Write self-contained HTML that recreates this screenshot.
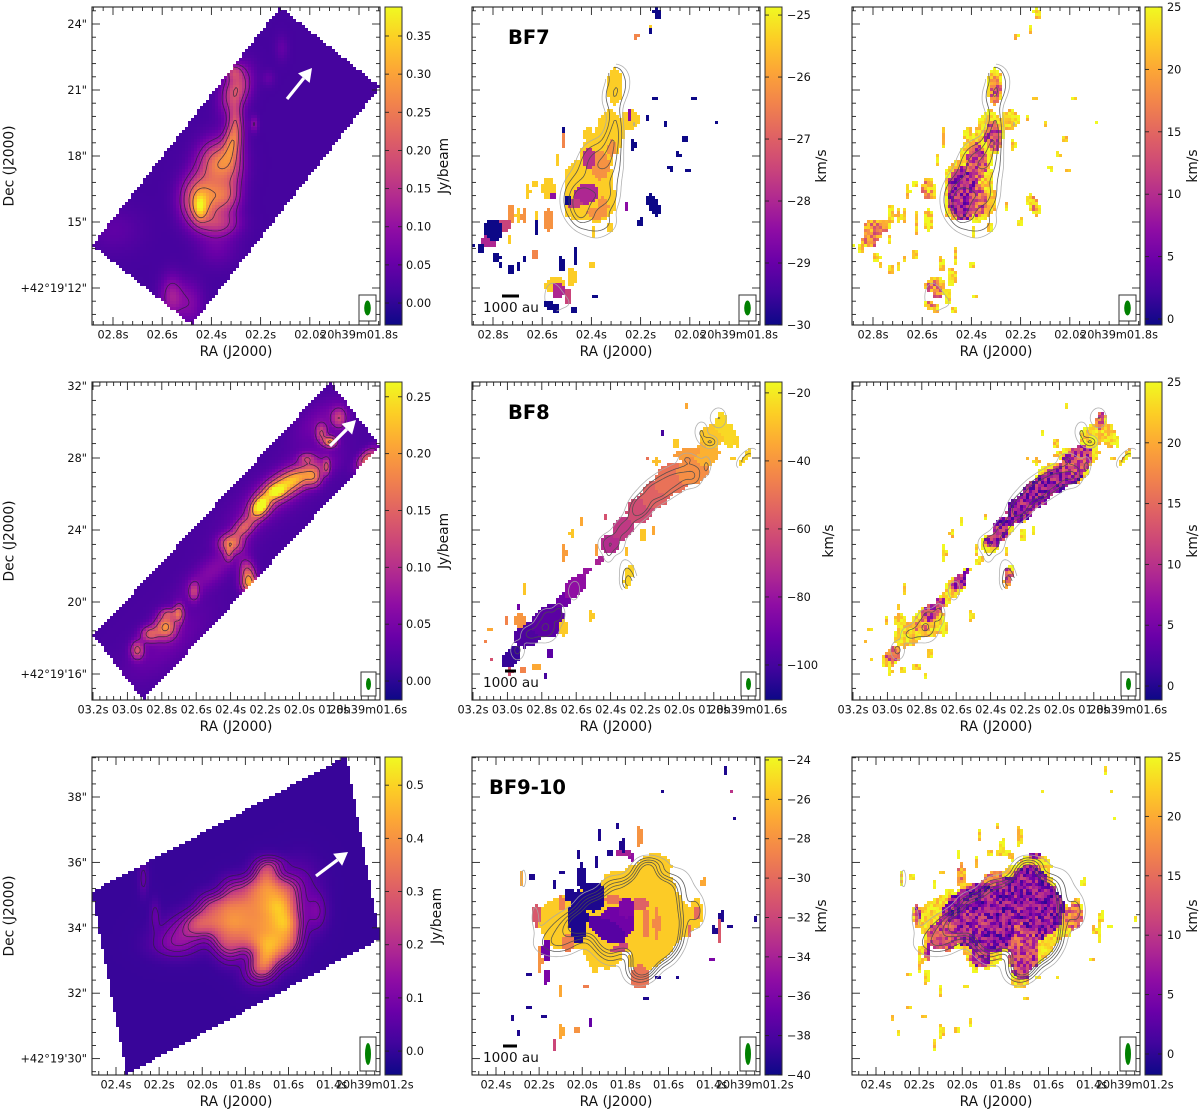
<!DOCTYPE html>
<html lang="en">
<head>
<meta charset="utf-8">
<title>BF7, BF8, BF9-10 moment maps</title>
<style>
html,body{margin:0;padding:0;background:#fff;}
svg{display:block;}
text{font-family:"DejaVu Sans","Liberation Sans",sans-serif;fill:#111;}
</style>
</head>
<body>
<svg id="figure" xmlns="http://www.w3.org/2000/svg" width="1200" height="1111" viewBox="0 0 1200 1111"></svg>
<script>
/* ---------- tick values and labels ---------- */
const row1RaTicks=[2.8,2.6,2.4,2.2,2.0,1.8];
const row1RaLabels=["02.8s","02.6s","02.4s","02.2s","02.0s","20h39m01.8s"];
const row2RaTicks=[3.2,3.0,2.8,2.6,2.4,2.2,2.0,1.8,1.6];
const row2RaLabels=["03.2s","03.0s","02.8s","02.6s","02.4s","02.2s","02.0s","01.8s","20h39m01.6s"];
const row3RaTicks=[2.4,2.2,2.0,1.8,1.6,1.4,1.2];
const row3RaLabels=["02.4s","02.2s","02.0s","01.8s","01.6s","01.4s","20h39m01.2s"];
const row1DecTicks=[24,21,18,15,12];
const row1DecLabels=['24"','21"','18"','15"','+42°19\'12"'];
const row2DecTicks=[32,28,24,20,16];
const row2DecLabels=['32"','28"','24"','20"','+42°19\'16"'];
const row3DecTicks=[38,36,34,32,30];
const row3DecLabels=['38"','36"','34"','32"','+42°19\'30"'];

const row1IntensityRange=[-0.0288,0.388];
const row1IntensityTicks=[0,0.05,0.1,0.15,0.2,0.25,0.3,0.35];
const row1IntensityLabels=["0.00","0.05","0.10","0.15","0.20","0.25","0.30","0.35"];
const row2IntensityRange=[-0.0167,0.263];
const row2IntensityTicks=[0,0.05,0.1,0.15,0.2,0.25];
const row2IntensityLabels=["0.00","0.05","0.10","0.15","0.20","0.25"];
const row3IntensityRange=[-0.045,0.553];
const row3IntensityTicks=[0,0.1,0.2,0.3,0.4,0.5];
const row3IntensityLabels=["0.0","0.1","0.2","0.3","0.4","0.5"];

const row1VelocityRange=[-30,-24.87];
const row1VelocityTicks=[-30,-29,-28,-27,-26,-25];
const row1VelocityLabels=["−30","−29","−28","−27","−26","−25"];
const row2VelocityRange=[-110.3,-16.8];
const row2VelocityTicks=[-100,-80,-60,-40,-20];
const row2VelocityLabels=["−100","−80","−60","−40","−20"];
const row3VelocityRange=[-40,-23.85];
const row3VelocityTicks=[-40,-38,-36,-34,-32,-30,-28,-26,-24];
const row3VelocityLabels=["−40","−38","−36","−34","−32","−30","−28","−26","−24"];

const row1DispersionRange=[-0.48,25];
const row2DispersionRange=[-1.15,25];
const row3DispersionRange=[-1.77,25];
const dispersionTicks=[0,5,10,15,20,25];
const dispersionLabels=["0","5","10","15","20","25"];

/* ---------- map footprints [RA s, Dec arcsec] ---------- */
const row1Footprint=[[2.121,24.77],[1.715,21.14],[2.479,10.32],[2.885,13.95]];
const row2Footprint=[[1.822,32.24],[1.53,28.67],[2.908,14.56],[3.198,18.13]];
const row3Footprint=[[1.331,39.25],[1.174,33.66],[2.351,29.52],[2.513,35.10]];

const row1Background=0.018;
const row2Background=0.017;
const row3Background=0.005;
const row1ContourLevels=[0.085,0.13,0.2,0.27];
const row2ContourLevels=[0.065,0.12,0.18];
const row3ContourLevels=[0.05,0.09,0.13,0.17,0.21];

/* ---------- integrated intensity: [RA, Dec, sigmaA", sigmaB", angle, peak Jy/beam] ---------- */
const row1IntensityPeaks=[
[2.446,16.0,.55,.75,0,.27],[2.446,15.62,.2,.4,0,.12],[2.371,17.66,.6,.7,0,.23],[2.351,16.15,.45,.5,0,.15],
[2.31,18.8,.65,.28,-80,.17],[2.30,21.0,.7,.4,-70,.18],[2.31,17.5,.35,1.3,0,.06],[2.365,14.94,.6,.4,0,.11],
[2.561,11.6,.35,.65,0,.1],[2.487,11.3,.4,.7,0,.06],[2.114,22.9,.2,.4,0,.03],[2.168,21.53,.2,.25,0,.03],
[2.226,19.45,.12,.25,0,.07],[2.378,13.88,.6,.6,0,.04],[2.798,14.64,.9,.7,0,.025],[2.304,19.79,.2,.5,0,.08],
[2.31,21.83,.25,.25,0,.1]];
const row2IntensityPeaks=[
[2.229,25.3,.4,.3,-60,.16],[2.21,25.48,.9,.35,-50,.09],[2.132,26.13,.35,.25,0,.09],[2.016,26.87,1.1,.4,-25,.12],
[1.915,26.87,.3,.35,0,.08],[2.084,26.4,.8,.4,-30,.06],[2.1,26.3,2.2,.7,-38,.05],[2.326,24.09,.5,.3,-40,.1],[2.40,23.26,.45,.35,0,.13],
[2.41,22.7,.15,.3,0,.06],[2.297,21.41,.3,.6,-10,.14],[2.297,21.0,.3,.3,0,.08],[2.778,18.63,.4,.45,0,.16],
[2.70,19.37,.2,.35,0,.12],[2.762,19.37,.3,.2,0,.07],[2.869,18.22,.35,.3,0,.11],[2.943,17.33,.25,.35,0,.11],
[2.613,20.57,.2,.35,0,.08],[1.821,28.9,.25,.2,0,.16],[1.871,29.37,.22,.35,0,.09],[1.768,30.2,.3,.4,0,.09],
[1.609,27.98,.5,.25,-45,.13],[1.958,27.98,.3,.2,0,.07],[1.842,27.52,.12,.3,0,.08],[2.501,21.78,1.5,.5,-40,.04],
[1.881,30.1,1.2,.6,-40,.03],[2.772,17.7,2,.8,-40,.025]];
const row3IntensityPeaks=[
[1.702,35.67,.28,.28,0,.23],
[1.856,35.16,.28,.28,0,.13],[1.763,35.16,.28,.28,0,.2],[1.686,35.16,.28,.28,0,.23],[1.609,35.16,.28,.28,0,.17],
[1.964,34.65,.28,.28,0,.15],[1.887,34.65,.28,.28,0,.2],[1.81,34.65,.28,.28,0,.2],[1.732,34.65,.28,.28,0,.2],[1.655,34.65,.28,.28,0,.27],[1.593,34.65,.28,.28,0,.15],
[2.011,34.14,.28,.28,0,.16],[1.933,34.14,.28,.28,0,.18],[1.856,34.14,.28,.28,0,.23],[1.779,34.14,.28,.28,0,.2],[1.702,34.14,.28,.28,0,.21],[1.624,34.14,.28,.28,0,.26],[1.578,34.14,.28,.28,0,.12],
[1.902,33.63,.28,.28,0,.16],[1.825,33.63,.28,.28,0,.16],[1.748,33.63,.28,.28,0,.21],[1.671,33.63,.28,.28,0,.23],[1.593,33.63,.28,.28,0,.2],
[1.872,33.22,.28,.28,0,.09],[1.702,33.22,.28,.28,0,.23],[1.624,33.22,.28,.28,0,.14],
[1.717,32.81,.28,.28,0,.23],
[2.103,33.73,.5,.35,0,.1],[2.05,34.1,.4,.3,0,.08],[1.47,34.49,.22,.4,0,.09],
[2.219,34.39,.1,.3,0,.06],[2.273,35.51,.1,.35,0,.06],[1.547,35.36,.4,.5,0,.06],[1.763,32.6,.3,.3,0,.06],
[2.134,33.42,.5,.25,0,.05],[1.671,35.97,.3,.15,0,.06]];

/* ---------- velocity regions: [RA, Dec, a", b", angle, km/s]; later regions paint over earlier ones ---------- */
const row1VelocityRegions=[
[2.378,16,.9,1.0,0,-25.4],[2.70,15.3,.1,.4,0,-25.4],[2.73,14.2,.08,.2,0,-25.4],
[2.304,21.15,.38,.83,0,-25.4],[2.324,19.03,.64,1.06,0,-25.4],[2.378,17.97,.75,1.06,0,-25.4],[2.446,16.6,.75,1.2,0,-25.4],
[2.446,15.55,.75,.45,0,-25.4],[2.344,16.76,.38,1.06,0,-25.4],[2.243,19.64,.45,.45,0,-25.4],[2.412,18.95,.23,.33,0,-25.4],
[2.574,16.53,.3,.53,0,-25.4],[2.493,17.14,.18,.33,0,-25.4],[2.629,16.76,.1,.2,0,-25.4],[2.541,17.82,.08,.3,0,-25.4],
[2.656,16.38,.1,.38,0,-25.4],[2.48,12.5,.2,.45,0,-25.4],[2.548,12.13,.45,.38,0,-25.4],[2.622,15.24,.12,.3,0,-25.4],
[2.398,13.05,.1,.12,0,-25.4],[2.392,14.56,.12,.27,0,-25.4],[2.324,14.79,.1,.3,0,-25.4],[2.161,23.8,.08,.22,0,-25.4],
[2.365,17.59,.42,.68,0,-26.2],[2.317,18.35,.18,.38,0,-26.2],[2.378,15.39,.45,.27,0,-26.2],[2.351,15.7,.23,.45,0,-26.2],
[2.575,15.09,.23,.53,0,-26.2],[2.514,18.73,.12,.42,0,-26.4],[2.724,15.39,.15,.45,0,-26.2],[2.676,15.24,.1,.38,0,-26.2],
[2.216,23.42,.06,.12,0,-26.4],[2.629,13.57,.08,.27,0,-26.4],
[2.419,16.3,.58,.48,-20,-28],[2.412,17.89,.3,.45,0,-27.8],[2.473,15.85,.38,.23,0,-27.6],[2.819,14.1,.38,.3,0,-28],
[2.751,14.87,.33,.27,0,-27.5],[2.534,11.9,.3,.38,0,-28],[2.493,11.6,.15,.38,0,-27.5],[2.243,19.86,.1,.22,0,-28.5],
[2.256,15.7,.09,.22,0,-28.5],[2.554,16.15,.12,.18,0,-28.5],
[2.148,15.77,.27,.53,-25,-30],[2.798,14.64,.42,.5,0,-30],[2.846,13.8,.14,.21,0,-30],[2.785,13.42,.18,.21,0,-30],
[2.771,13.05,.09,.18,0,-30],[2.728,12.82,.09,.3,0,-30],[2.697,12.97,.08,.23,0,-30],[2.622,14.71,.09,.33,0,-30],
[2.67,13.35,.09,.15,0,-30],[2.52,13.05,.14,.38,0,-30],[2.466,13.42,.08,.38,0,-30],[2.561,11.15,.45,.2,30,-30],
[2.473,11,.12,.12,0,-30],[2.046,18.05,.09,.15,0,-30],[2.019,18.73,.08,.18,0,-30],[2.229,18.5,.12,.23,0,-30],
[2.134,24.48,.15,.27,-30,-30],[2.161,23.73,.08,.15,0,-30],[2.141,20.62,.06,.12,0,-30],[2.168,19.71,.06,.12,0,-30],
[2.202,15.0,.05,.21,0,-30],[2.514,19.18,.08,.15,0,-30],[2.493,16.0,.15,.21,0,-30],[2.385,11.6,.08,.12,0,-30],
[1.985,20.62,.05,.04,0,-30],[1.893,19.56,.05,.08,0,-30],[2.096,19.45,.06,.04,0,-30],[2.08,17.41,.05,.05,0,-30],
[2.01,17.33,.05,.09,0,-30],[2.88,13.9,.06,.09,0,-30]];
const row2VelocityRegions=[
[2.975,16.96,.7,.4,-50,-103],[2.878,18.17,.83,.65,-30,-98],[2.762,18.91,1.0,.83,-45,-95],[2.675,20.11,.46,.37,-45,-90],
[2.607,20.85,.74,.5,-50,-82],[2.539,21.69,.33,.18,-50,-80],[2.462,22.33,.28,.18,-50,-75],[2.404,23.26,.52,.55,-30,-72],
[2.326,24.09,.7,.55,-50,-68],[2.229,25.11,.83,.7,-50,-62],[2.132,26.04,.93,.75,-40,-55],[2.035,26.87,1.1,.85,-30,-50],
[1.919,27.33,.93,.8,-30,-42],[1.842,28.26,.74,.7,-40,-33],[1.813,29.19,.65,.65,0,-28],[1.754,29.93,.33,.65,0,-24],
[1.706,29.19,.33,.65,0,-24],[1.958,28.26,.74,.28,-10,-38],
[1.619,27.98,.65,.15,-55,-25],[2.297,21.41,.24,.74,10,-25],[2.927,19.0,.33,.41,0,-40],[2.675,18.54,.22,.46,0,-27],
[2.51,19.19,.09,.37,0,-27],[2.671,22.7,.15,.46,0,-38],[2.21,23.72,.22,.33,0,-28],[2.152,24,.11,.28,0,-35],
[2.898,20.67,.08,.33,0,-28],[3.004,19,.11,.28,0,-45],[2.627,23.82,.08,.22,0,-28],[2.568,24.46,.08,.22,0,-35],
[2.433,24.74,.09,.22,0,-60],[2.094,29.37,.06,.22,0,-100],[2.016,28.82,.15,.33,0,-27],[1.954,30.85,.06,.18,0,-35],
[1.667,28.9,.18,.28,0,-25],[2.132,27.8,.18,.22,0,-30],[2.19,27.98,.06,.09,0,-50],[2.752,17.15,.09,.28,0,-95],
[2.83,16.41,.22,.18,0,-35],[2.908,16.22,.15,.28,0,-45],[3.101,18.45,.06,.18,0,-35],[3.092,16.78,.09,.09,0,-60],
[3.13,17.8,.06,.07,0,-45],[2.782,15.94,.07,.15,0,-100],[2.985,16.13,.15,.18,0,-60],[2.937,19.74,.15,.22,0,-90],
[2.481,22.89,.13,.28,0,-38],[1.687,27.98,.09,.18,0,-27],[2.307,22.8,.07,.18,0,-30]];
const row3VelocityRegions=[
[1.841,34.24,2.45,1.02,0,-25.6],
[1.671,34.44,.82,1.58,0,-25.6],[1.733,35.36,.61,.61,0,-25.6],[1.663,35.87,.51,.41,0,-25.6],[1.841,35.46,.46,.31,-15,-25.6],
[1.903,33.22,.6,.45,20,-25.6],[1.941,32.91,.15,.3,0,-25.6],[2.111,33.93,.46,.56,0,-25.6],[1.47,34.44,.2,.46,0,-25.6],
[1.717,33.02,.51,.31,0,-25.6],[1.547,34.65,.12,.36,0,-25.6],[2.065,33.52,.2,.26,0,-29],
[1.733,32.5,.31,.36,0,-29.5],[1.655,34.14,.1,.51,0,-28.5],[1.702,34.14,.12,.46,0,-29],[1.733,34.7,.26,.2,0,-30.5],
[1.856,34.85,.26,.15,0,-29.5],[1.47,34.44,.1,.2,0,-30],[2.096,34.75,.08,.26,0,-29],[2.212,34.39,.12,.36,0,-31],
[2.196,33.01,.08,.41,0,-28],[1.733,36.79,.05,.4,0,-28],[1.5,33.93,.06,.2,0,-30],[1.362,34.03,.08,.46,0,-31],
[2.096,30.82,.08,.26,0,-27],[2.026,30.87,.05,.12,0,-28],[2.127,30.42,.05,.15,0,-32],[1.439,35.41,.05,.15,0,-27],
[2.281,35.5,.05,.25,0,-27],[2.104,32.05,.05,.2,0,-27],[1.98,32.22,.04,.05,0,-29],
[1.841,34.14,.55,.51,0,-36.5],[1.794,34.6,.26,.3,0,-36],[1.887,33.93,.65,.3,30,-37.5],[1.825,33.37,.3,.12,-20,-32],
[2.165,33.32,.14,.36,0,-36.5],[2.165,32.5,.06,.3,0,-36],[1.81,36.28,.26,.12,0,-34],[1.4,33.01,.08,.06,0,-36],
[1.961,31.1,.05,.15,0,-37],[1.771,36.12,.05,.15,0,-35],
[2.019,34.34,.29,.82,0,-39.5],[1.949,34.95,.36,.46,0,-39.5],[2.003,35.56,.12,.41,0,-39.5],[2.057,35,.15,.2,0,-39.5],
[1.934,36.02,.05,.15,0,-39.5],[1.813,36.53,.07,.25,0,-39.5],[2.127,35.3,.07,.15,0,-39.5],[1.918,36.84,.04,.15,0,-39.5],
[1.841,37.11,.05,.04,0,-39.5],[2.014,36.23,.04,.12,0,-39.5],[2.096,35.69,.04,.1,0,-39.5],[2.232,35.58,.04,.12,0,-39.5],
[1.872,36.28,.04,.15,0,-39.5],[1.354,34.39,.05,.2,0,-39.5],[1.385,33.93,.04,.15,0,-39.5],[1.199,34.26,.04,.12,0,-39.5],
[1.334,38.85,.04,.14,0,-39.5],[1.624,38.16,.04,.08,0,-39.5],[1.297,37.37,.04,.04,0,-39.5],[1.308,38.16,.04,.08,0,-33],
[2.323,31.26,.04,.06,0,-39.5],[2.247,31.54,.05,.04,0,-39.5],[2.176,31.26,.04,.06,0,-39.5],[2.3,30.79,.03,.03,0,-39.5],
[2.246,32.6,.04,.06,0,-39.5],[1.702,31.81,.04,.04,0,-39.5],[1.648,32.48,.03,.04,0,-39.5],[1.555,32.48,.03,.04,0,-39.5],
[1.312,34.03,.03,.08,0,-39.5]];

/* ---------- velocity dispersion regions: [RA, Dec, a", b", angle, km/s] ---------- */
const row1DispersionRegions=[
[2.433,16.3,.75,1.2,0,9],[2.379,17.67,.45,.9,0,13],[2.311,18.88,.38,.68,0,13],[2.304,21,.27,.6,0,15],
[2.372,16,.38,.76,0,14],[2.799,14.48,.75,.6,0,18],[2.555,11.76,.45,.6,0,17],[2.582,16.45,.3,.45,0,19],[2.142,15.77,.18,.38,0,20]];
const row2DispersionRegions=[
[2.113,26.04,3.3,.83,-35,7],[2.365,23.63,.74,.52,-45,9],[1.9,27.89,1.0,.65,-35,11],[2.569,21.22,.74,.33,-50,9],
[2.733,19.56,.83,.46,-45,11],[2.791,18.63,.46,.41,0,18],[2.966,17.15,.55,.46,-50,15],[2.297,21.41,.26,.55,0,14],[1.764,30.11,.28,.55,0,15]];
const row3DispersionRegions=[
[1.809,34.44,1.94,1.12,-8,7],
[1.794,34.54,1.73,.82,-8,6],[1.686,35.36,.56,.56,0,6],[1.964,34.14,.61,.41,0,8],[1.717,33.22,.46,.82,0,11],
[1.732,33.83,.2,.41,0,12],[2.087,33.73,.51,.46,0,12],[2.211,34.39,.1,.3,0,11],[2.149,33.22,.15,.3,0,10],
[1.485,34.34,.31,.41,0,16],[1.917,33.1,.31,.31,0,9],[1.995,35.67,.26,.41,0,18],[1.871,35.56,.41,.25,0,15],[1.662,36.23,.2,.15,0,10]];
const dispersionOutskirts=23;
const dispersionSpeckle=[-6,2,7,-9,0,9,-3,5,-11,3,8,-7,1,-4,10,-8,4,-2,6,-10,2,9,-5,0,7,-9,3,-6,5];

/* ---------- layout and axis anchors ---------- */
const panelLefts=[92,472,852];
const panelTops=[7,382,757];
const panelWidth=288;
const panelHeight=318;
const barOffset=293;
const barWidth=17;
const raRef=[2.8,3.2,2.4];
const raRefX=[113,93,116];
const raScale=[246,172,215.6];
const decRef=[24,32,38];
const decRefY=[24,386,797];
const decScale=[22,18,32.7];
const raMinor=[0.04,0.04,0.04];
const decMinor=[0.6,0.8,0.4];

const plasmaStops=["#0d0887","#41049d","#6a00a8","#8f0da4","#b12a90","#cc4778","#e16462","#f2844b","#fca636","#fcce25","#f0f921"];

const raTicks=[row1RaTicks,row2RaTicks,row3RaTicks];
const raLabels=[row1RaLabels,row2RaLabels,row3RaLabels];
const decTicks=[row1DecTicks,row2DecTicks,row3DecTicks];
const decLabels=[row1DecLabels,row2DecLabels,row3DecLabels];
const footprints=[row1Footprint,row2Footprint,row3Footprint];
const backgrounds=[row1Background,row2Background,row3Background];
const contourLevels=[row1ContourLevels,row2ContourLevels,row3ContourLevels];
const intensityPeaks=[row1IntensityPeaks,row2IntensityPeaks,row3IntensityPeaks];
const velocityRegions=[row1VelocityRegions,row2VelocityRegions,row3VelocityRegions];
const dispersionRegions=[row1DispersionRegions,row2DispersionRegions,row3DispersionRegions];
const barRanges=[
[row1IntensityRange,row1VelocityRange,row1DispersionRange],
[row2IntensityRange,row2VelocityRange,row2DispersionRange],
[row3IntensityRange,row3VelocityRange,row3DispersionRange]];
const barTicks=[
[row1IntensityTicks,row1VelocityTicks,dispersionTicks],
[row2IntensityTicks,row2VelocityTicks,dispersionTicks],
[row3IntensityTicks,row3VelocityTicks,dispersionTicks]];
const barLabels=[
[row1IntensityLabels,row1VelocityLabels,dispersionLabels],
[row2IntensityLabels,row2VelocityLabels,dispersionLabels],
[row3IntensityLabels,row3VelocityLabels,dispersionLabels]];
const barTitleX=[[443,821,1192],[443,828,1192],[436,821,1192]];
const rowTitles=["BF7","BF8","BF9-10"];
const rowTitleX=[508,508,489];
const rowTitleY=[44,419,794];
const scaleBarX=[[502,519],[505,516],[503,517]];
const scaleBarY=[296,671,1046];
const beamBoxes=[[359,295,17,26],[361,672,15,24],[360,1037,16,34]];
const beamRadii=[[3.3,7.5],[2.5,6],[3,11]];
const arrowTails=[[287,99],[330,446],[316,876]];
const arrowTips=[[312,68],[356,420],[348,852]];

const NS="http://www.w3.org/2000/svg";
const figure=document.getElementById("figure");
function make(tag,attrs,parent){
  const el=document.createElementNS(NS,tag);
  for(const k in attrs){el.setAttribute(k,attrs[k]);}
  parent.appendChild(el);
  return el;
}
function hexToRgb(h){return [parseInt(h.slice(1,3),16),parseInt(h.slice(3,5),16),parseInt(h.slice(5,7),16)];}
const plasmaRgb=plasmaStops.map(hexToRgb);
function plasma(t){
  t=Math.max(0,Math.min(1,t))*(plasmaRgb.length-1);
  const i=Math.min(plasmaRgb.length-2,Math.floor(t));
  const f=t-i;
  const a=plasmaRgb[i],b=plasmaRgb[i+1];
  return "rgb("+Math.round(a[0]+(b[0]-a[0])*f)+","+Math.round(a[1]+(b[1]-a[1])*f)+","+Math.round(a[2]+(b[2]-a[2])*f)+")";
}
/* axis functions: column 0 pixel coordinates are the reference frame */
function xOf(r,c,ra){return panelLefts[c]-panelLefts[0]+raRefX[r]+(raRef[r]-ra)*raScale[r];}
function yOf(r,dec){return decRefY[r]+(decRef[r]-dec)*decScale[r];}
function raAt(r,px){return raRef[r]-(px-raRefX[r])/raScale[r];}
function decAt(r,py){return decRef[r]-(py-decRefY[r])/decScale[r];}
function barY(r,c,v){const q=barRanges[r][c];return panelTops[r]+panelHeight*(1-(v-q[0])/(q[1]-q[0]));}
function barColor(r,c,v){const q=barRanges[r][c];return plasma((v-q[0])/(q[1]-q[0]));}

function insidePoly(poly,x,y){
  let inside=false;
  for(let i=0,j=poly.length-1;i<poly.length;j=i++){
    const xi=poly[i][0],yi=poly[i][1],xj=poly[j][0],yj=poly[j][1];
    if((yi>y)!==(yj>y)&&x<(xj-xi)*(y-yi)/(yj-yi)+xi){inside=!inside;}
  }
  return inside;
}
function intensityAt(r,ra,dec){
  let sum=backgrounds[r];
  const list=intensityPeaks[r];
  for(let i=0;i<list.length;i++){
    const g=list[i];
    const dx=(g[0]-ra)*raScale[r],dy=(g[1]-dec)*decScale[r];
    const t=g[4]*Math.PI/180,ct=Math.cos(t),st=Math.sin(t);
    const u=(dx*ct+dy*st)/(g[2]*decScale[r]),v=(-dx*st+dy*ct)/(g[3]*decScale[r]);
    const e=0.5*(u*u+v*v);
    if(e<12){sum+=g[5]*Math.exp(-e);}
  }
  return sum;
}
function inRegion(r,g,ra,dec){
  const dx=(g[0]-ra)*raScale[r],dy=(g[1]-dec)*decScale[r];
  const t=g[4]*Math.PI/180,ct=Math.cos(t),st=Math.sin(t);
  const a=Math.max(g[2]*decScale[r],2.2),b=Math.max(g[3]*decScale[r],2.2);
  const u=(dx*ct+dy*st)/a,v=(-dx*st+dy*ct)/b;
  return u*u+v*v<=1;
}
function lastRegion(r,list,ra,dec){
  for(let i=list.length-1;i>=0;i--){
    if(inRegion(r,list[i],ra,dec)){return list[i];}
  }
  return null;
}
/* gridded intensity for contouring */
const contourStep=2;
const grids=[0,1,2].map(function(r){
  const cols=Math.floor(panelWidth/contourStep)+1,rows=Math.floor(panelHeight/contourStep)+1;
  const vals=[],mask=[];
  for(let j=0;j<rows;j++){
    const vr=[],mr=[];
    for(let i=0;i<cols;i++){
      const ra=raAt(r,panelLefts[0]+i*contourStep),dec=decAt(r,panelTops[r]+j*contourStep);
      vr.push(intensityAt(r,ra,dec));
      mr.push(insidePoly(footprints[r],ra,dec));
    }
    vals.push(vr);mask.push(mr);
  }
  return {vals:vals,mask:mask,cols:cols,rows:rows};
});
function contourPath(r,c,level){
  const G=grids[r];
  const x0=panelLefts[c],y0=panelTops[r];
  let d="";
  function f(n){return n.toFixed(1);}
  for(let j=0;j<G.rows-1;j++){
    for(let i=0;i<G.cols-1;i++){
      if(!(G.mask[j][i]&&G.mask[j][i+1]&&G.mask[j+1][i]&&G.mask[j+1][i+1])){continue;}
      const a=G.vals[j][i],b=G.vals[j][i+1],e=G.vals[j+1][i+1],h=G.vals[j+1][i];
      const pts=[];
      const X=x0+i*contourStep,Y=y0+j*contourStep,S=contourStep;
      if((a>=level)!==(b>=level)){pts.push([X+S*(level-a)/(b-a),Y]);}
      if((b>=level)!==(e>=level)){pts.push([X+S,Y+S*(level-b)/(e-b)]);}
      if((h>=level)!==(e>=level)){pts.push([X+S*(level-h)/(e-h),Y+S]);}
      if((a>=level)!==(h>=level)){pts.push([X,Y+S*(level-a)/(h-a)]);}
      if(pts.length>=2){d+="M"+f(pts[0][0])+" "+f(pts[0][1])+"L"+f(pts[1][0])+" "+f(pts[1][1]);}
      if(pts.length===4){d+="M"+f(pts[2][0])+" "+f(pts[2][1])+"L"+f(pts[3][0])+" "+f(pts[3][1]);}
    }
  }
  return d;
}

/* colour-bar gradient */
const defs=make("defs",{},figure);
const grad=make("linearGradient",{id:"plasmaGrad",x1:0,y1:1,x2:0,y2:0},defs);
plasmaStops.forEach(function(col,i){
  make("stop",{offset:i/(plasmaStops.length-1),"stop-color":col},grad);
});

const cellStep=3;
const columnKinds=["intensity","velocity","dispersion"];

function drawRaster(r,c,group){
  const left=panelLefts[c],top=panelTops[r];
  for(let j=0;j<Math.ceil(panelHeight/cellStep);j++){
    const h=Math.min(cellStep,panelHeight-j*cellStep);
    const dec=decAt(r,top+j*cellStep+h/2);
    for(let i=0;i<Math.ceil(panelWidth/cellStep);i++){
      const w=Math.min(cellStep,panelWidth-i*cellStep);
      const ra=raAt(r,panelLefts[0]+i*cellStep+w/2);
      let value=null;
      if(c===0){
        if(!insidePoly(footprints[r],ra,dec)){continue;}
        value=intensityAt(r,ra,dec);
      }else{
        const hit=lastRegion(r,velocityRegions[r],ra,dec);
        if(!hit){continue;}
        if(c===1){
          value=hit[5];
        }else{
          const core=lastRegion(r,dispersionRegions[r],ra,dec);
          const s=dispersionSpeckle[(i*7+Math.floor(j/2)*13+(i*j)%5)%dispersionSpeckle.length];
          value=core?core[5]+s*0.55:dispersionOutskirts+s*0.3;
        }
      }
      const cell=make("rect",{x:left+i*cellStep,y:top+j*cellStep,width:w,height:h,fill:barColor(r,c,value),"shape-rendering":"crispEdges"},group);
      
      
    }
  }
}

function tickLine(parent,x1,y1,x2,y2){
  return make("line",{x1:x1,y1:y1,x2:x2,y2:y2,stroke:"#222","stroke-width":0.9},parent);
}

function drawAxes(r,c,group){
  const left=panelLefts[c],top=panelTops[r],right=left+panelWidth,bottom=top+panelHeight;
  const ticks=make("g",{},group);
  
  
  const major=8,minor=4;
  /* x ticks */
  const rt=raTicks[r];
  const raHi=raAt(r,panelLefts[0]),raLo=raAt(r,panelLefts[0]+panelWidth);
  for(let n=Math.ceil(raLo/raMinor[r]-1e-6);n*raMinor[r]<=raHi;n++){
    const v=n*raMinor[r];
    const x=xOf(r,c,v);
    const isMajor=rt.some(function(q){return Math.abs(q-v)<1e-6;});
    const len=isMajor?major:minor;
    tickLine(ticks,x,top,x,top+len);
    tickLine(ticks,x,bottom,x,bottom-len);
  }
  /* y ticks */
  const dt=decTicks[r];
  const decHi=decAt(r,top),decLo=decAt(r,bottom);
  for(let n=Math.ceil(decLo/decMinor[r]-1e-6);n*decMinor[r]<=decHi;n++){
    const v=n*decMinor[r];
    const y=yOf(r,v);
    const isMajor=dt.some(function(q){return Math.abs(q-v)<1e-6;});
    const len=isMajor?major:minor;
    tickLine(ticks,left,y,left+len,y);
    tickLine(ticks,right,y,right-len,y);
  }
  const frame=make("rect",{x:left,y:top,width:panelWidth,height:panelHeight,fill:"none",stroke:"#222","stroke-width":1.1},group);
  
  
  /* x tick labels */
  rt.forEach(function(v,i){
    const t=make("text",{x:xOf(r,c,v),y:bottom+13.5,"text-anchor":"middle","font-size":11.3},group);
    t.textContent=raLabels[r][i];
    
    
  });
  const xt=make("text",{x:left+144,y:bottom+31,"text-anchor":"middle","font-size":13.8},group);
  xt.textContent="RA (J2000)";
  
  
  if(c===0){
    dt.forEach(function(v,i){
      const t=make("text",{x:87,y:yOf(r,v)+4,"text-anchor":"end","font-size":11.3},group);
      t.textContent=decLabels[r][i];
      
      
    });
    const yt=make("text",{x:0,y:0,"text-anchor":"middle","font-size":13.8,transform:"translate(13.5,"+(top+159)+") rotate(-90)"},group);
    yt.textContent="Dec (J2000)";
    
    
  }
}

function drawBeam(r,c,group){
  const b=beamBoxes[r],dx=panelLefts[c]-panelLefts[0];
  const box=make("rect",{x:b[0]+dx,y:b[1],width:b[2],height:b[3],fill:"#fff",stroke:"#333","stroke-width":1},group);
  
  
  const e=make("ellipse",{cx:b[0]+dx+b[2]/2,cy:b[1]+b[3]/2,rx:beamRadii[r][0],ry:beamRadii[r][1],fill:"#008000"},group);
  
  
}

function drawColorbar(r,c,group){
  const x=panelLefts[c]+barOffset,top=panelTops[r];
  const bar=make("g",{},group);
  
  
  const body=make("rect",{x:x,y:top,width:barWidth,height:panelHeight,fill:"url(#plasmaGrad)",stroke:"#333","stroke-width":1},bar);
  
  
  barTicks[r][c].forEach(function(v,i){
    const y=barY(r,c,v);
    tickLine(bar,x,y,x+4,y);
    tickLine(bar,x+barWidth,y,x+barWidth-4,y);
    const t=make("text",{x:x+barWidth+(c===0?4:5),y:y+4,"font-size":11.3},bar);
    t.textContent=barLabels[r][c][i];
    
    
  });
  const ttl=make("text",{x:0,y:0,"text-anchor":"middle","font-size":13.8,transform:"translate("+(barTitleX[r][c]+5)+","+(top+159)+") rotate(-90)"},bar);
  ttl.textContent=c===0?"Jy/beam":"km/s";
  
  
}

for(let r=0;r<3;r++){
  for(let c=0;c<3;c++){
    const panel=make("g",{},figure);
    
    
    const raster=make("g",{},panel);
    
    
    drawRaster(r,c,raster);
    const contours=make("g",{fill:"none"},panel);
    
    
    contourLevels[r].forEach(function(level,k){
      const stroke=c===0?"#2a2040":(k===0?"#a8a8a8":"#4c4c4c");
      const p=make("path",{d:contourPath(r,c,level),stroke:stroke,"stroke-width":0.8,"stroke-opacity":c===0?0.8:0.9},contours);
      
      
    });
    if(c===0){
      const tail=arrowTails[r],tip=arrowTips[r];
      const ang=Math.atan2(tip[1]-tail[1],tip[0]-tail[0]);
      const ux=Math.cos(ang),uy=Math.sin(ang);
      const baseX=tip[0]-ux*13,baseY=tip[1]-uy*13;
      const arrow=make("g",{},panel);
      
      
      make("line",{x1:tail[0],y1:tail[1],x2:baseX,y2:baseY,stroke:"#fff","stroke-width":3.2},arrow);
      make("polygon",{points:tip[0]+","+tip[1]+" "+(baseX-uy*7.5)+","+(baseY+ux*7.5)+" "+(baseX+uy*7.5)+","+(baseY-ux*7.5),fill:"#fff"},arrow);
    }
    if(c===1){
      const title=make("text",{x:rowTitleX[r],y:rowTitleY[r],"font-size":19.5,"font-weight":"bold",style:"fill:#000"},panel);
      title.textContent=rowTitles[r];
      
      
      const sb=make("rect",{x:scaleBarX[r][0],y:scaleBarY[r]-1.5,width:scaleBarX[r][1]-scaleBarX[r][0],height:3,fill:"#000"},panel);
      
      
      const st=make("text",{x:483,y:scaleBarY[r]+16,"font-size":13.6},panel);
      st.textContent="1000 au";
      
      
    }
    drawAxes(r,c,panel);
    drawBeam(r,c,panel);
    drawColorbar(r,c,panel);
  }
}
</script>
</body>
</html>
